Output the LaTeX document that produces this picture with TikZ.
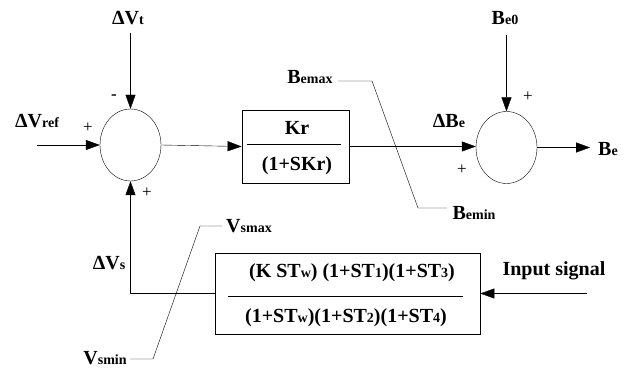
\documentclass[tikz,border=0pt]{standalone}
\usepackage{fontspec}
\setmainfont{Liberation Serif}
\usetikzlibrary{arrows.meta,shapes.geometric}
\newcommand{\sm}[1]{{\fontsize{14}{14}\selectfont #1}}

\begin{document}
\begin{tikzpicture}[x=1pt,y=-1pt,
  every node/.style={font=\fontsize{20}{20}\selectfont\bfseries},
  arr/.style={-{Triangle[length=14pt,width=10pt]}},
  sumnode/.style={ellipse,draw,minimum width=61pt,minimum height=72pt,inner sep=0},
  blockbox/.style={draw,line width=0.8pt},
  sgn/.style={font=\fontsize{17}{17}\selectfont}]
\useasboundingbox (0,0) rectangle (629,371);
% summing junctions and blocks
\node[sumnode] (sumV) at (130.5,145) {};
\node[sumnode] (sumB) at (506.5,147.5) {};
\node[blockbox,minimum width=107pt,minimum height=73pt] (kr) at (295.5,146.5) {};
\node[blockbox,minimum width=265pt,minimum height=81pt] (pss) at (347.5,293.5) {};
\draw (247,144) -- (341,144);
\draw (228,296) -- (463,296);
\node (krnum) at (297,128) {Kr};
\node (krden) at (297,166) {(1+SKr)};
\node (pssnum) at (352,273) {(K ST\sm{w}) (1+ST\sm{1})(1+ST\sm{3})};
\node (pssden) at (346,318) {(1+ST\sm{w})(1+ST\sm{2})(1+ST\sm{4})};
% labels
\node (dvt) at (128,18) {ΔV\sm{t}};
\node (vref) at (37,121) {ΔV\sm{ref}};
\node (be0) at (505,18) {B\sm{e0}};
\node (bemax) at (310,77) {B\sm{emax}};
\node (dbe) at (449,121) {ΔB\sm{e}};
\node (be) at (608,149) {B\sm{e}};
\node (bemin) at (474,213) {B\sm{emin}};
\node (vsmax) at (249,226) {V\sm{smax}};
\node (dvs) at (109,263) {ΔV\sm{s}};
\node (inp) at (554,271) {Input signal};
\node (vsmin) at (105,358) {V\sm{smin}};
% signs
\node[sgn] (pref) at (88,128) {+};
\node[sgn] (mvt) at (114,97) {\textbf{-}};
\node[sgn] (pvs) at (147,193) {+};
\node[sgn] (pbe0) at (528,97) {+};
\node[sgn] (pdbe) at (462,170) {+};
% free ends
\coordinate (vtin) at (130.5,33);
\coordinate (refin) at (37,145);
\coordinate (be0in) at (506.5,35);
\coordinate (beout) at (590,147.5);
\coordinate (sigin) at (587,293.5);
% connectors
\draw[arr] (vtin) -- (sumV.north);
\draw[arr] (refin) -- (sumV.west);
\draw[arr] (sumV.east) -- (kr.west);
\draw[arr] (kr.east) -- (kr.east -| sumB.west);
\draw[arr] (be0in) -- (sumB.north);
\draw[arr] (sumB.east) -- (beout);
\draw[arr] (sigin) -- (pss.east);
\draw[arr] (pss.west) -| (sumV.south);
% limits
\draw (338,81) -- (372,81) -- (418,208) -- (447,208);
\draw (222,226) -- (200,226) -- (153,359) -- (130,359);
\end{tikzpicture}
\end{document}
